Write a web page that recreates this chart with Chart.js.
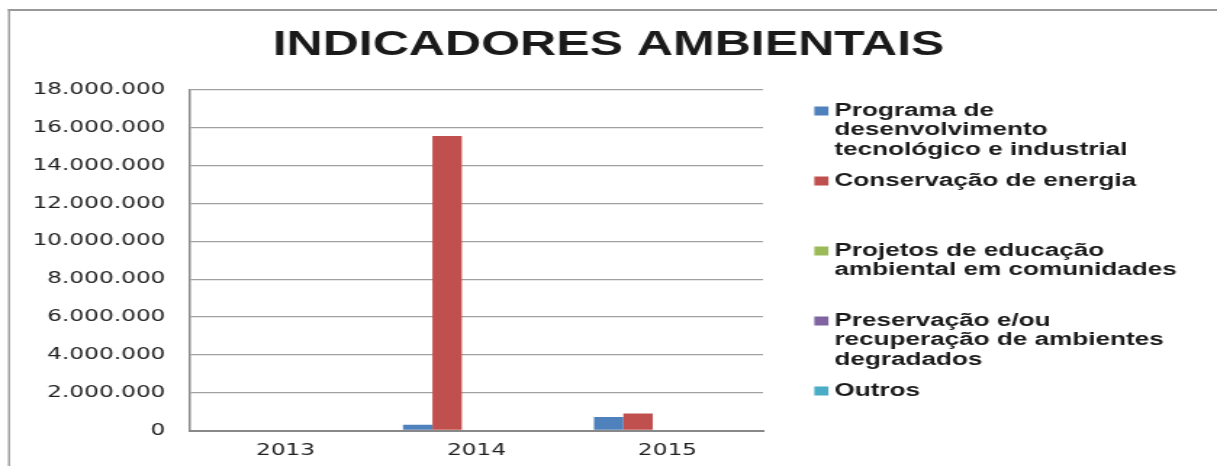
<!DOCTYPE html>
<html>
	<head>
		<title>Indicadores Ambientais</title>
		<style type="text/css">
			body { margin: 0; background: #fff; }
			/* the original picture is stretched sideways, so the canvas is too */
			#mycanvas { width: 1217px !important; height: 466px !important; }
		</style>
	</head>
	<body>
		<canvas id="mycanvas" width="839" height="466"></canvas>

		<script src="https://cdn.jsdelivr.net/npm/chart.js@4"></script>
		<script>
			var anos = ['2013', '2014', '2015'];
			var programa = [0, 300000, 720000];
			var conservacao = [0, 15570000, 900000];
			var educacao = [0, 0, 0];
			var preservacao = [0, 0, 0];
			var outros = [0, 0, 0];

			var nomes = [
				['Programa de', 'desenvolvimento', 'tecnológico e industrial'],
				['Conservação de energia'],
				['Projetos de educação', 'ambiental em comunidades'],
				['Preservação e/ou', 'recuperação de ambientes', 'degradados'],
				['Outros']
			];
			var cores = ['#4F81BD', '#C0504D', '#9BBB59', '#8064A2', '#4BACC6'];
			var series = [programa, conservacao, educacao, preservacao, outros];

			function pontos(v) {
				return String(v).replace(/\B(?=(\d{3})+(?!\d))/g, '.');
			}

			var datasets = [];
			for (var i in series) {
				datasets.push({
					label: nomes[i].join(' '),
					data: series[i],
					backgroundColor: cores[i],
					borderWidth: 0
				});
			}

			// gray frame around the whole picture
			var moldura = {
				id: 'moldura',
				beforeDraw: function(chart) {
					var ctx = chart.ctx;
					ctx.save();
					ctx.fillStyle = '#999';
					ctx.fillRect(5.5, 9, 1.4, chart.height);
					ctx.fillRect(5.5, 9, chart.width, 2);
					ctx.restore();
				}
			};

			// legend with wrapped labels, to the right of the plot
			var legenda = {
				id: 'legenda',
				afterDraw: function(chart) {
					var ctx = chart.ctx;
					var x = chart.chartArea.right + 35.4;
					ctx.save();
					ctx.font = 'bold 18px "Liberation Sans", Arial, sans-serif';
					ctx.textBaseline = 'middle';
					chart.data.datasets.forEach(function(ds, k) {
						var y = 111 + k * 70;
						ctx.fillStyle = ds.backgroundColor;
						ctx.fillRect(x, y - 4.5, 9.7, 9);
						ctx.fillStyle = '#1a1a1a';
						nomes[k].forEach(function(linha, j) {
							ctx.fillText(linha, x + 13.8, y + j * 19.5);
						});
					});
					ctx.restore();
				}
			};

			var fonteEixo = { family: '"DejaVu Sans", sans-serif', size: 16 };

			var ctx = document.getElementById('mycanvas');

			var barGraph = new Chart(ctx, {
				type: 'bar',
				data: {
					labels: anos,
					datasets: datasets
				},
				plugins: [moldura, legenda],
				options: {
					responsive: false,
					animation: false,
					devicePixelRatio: 1,
					layout: { padding: 0 },
					datasets: {
						bar: { categoryPercentage: 0.77, barPercentage: 1 }
					},
					plugins: {
						legend: { display: false },
						tooltip: { enabled: false },
						title: {
							display: true,
							text: 'INDICADORES AMBIENTAIS',
							color: '#1a1a1a',
							font: { family: '"Liberation Sans", Arial, sans-serif', size: 34.5, weight: 'bold' },
							padding: { top: 25, bottom: 23.6 }
						}
					},
					scales: {
						x: {
							grid: { display: false, drawTicks: false },
							border: { color: '#888', width: 2 },
							ticks: {
								padding: 11,
								color: '#222',
								font: fonteEixo
							},
							afterFit: function(scale) { scale.height = 35.5; }
						},
						y: {
							min: 0,
							max: 18000000,
							grid: { color: '#a0a0a0', lineWidth: 1.3, drawTicks: false },
							border: { color: '#888', width: 1.5 },
							ticks: {
								stepSize: 2000000,
								padding: 17,
								color: '#222',
								font: fonteEixo,
								callback: function(v) { return pontos(v); }
							},
							afterFit: function(scale) { scale.width = 131; }
						},
						// empty axis that only keeps room for the legend
						espaco: {
							position: 'right',
							grid: { display: false, drawTicks: false },
							border: { display: false },
							ticks: { display: false },
							afterFit: function(scale) { scale.width = 313; }
						}
					}
				}
			});
		</script>
	</body>
</html>
